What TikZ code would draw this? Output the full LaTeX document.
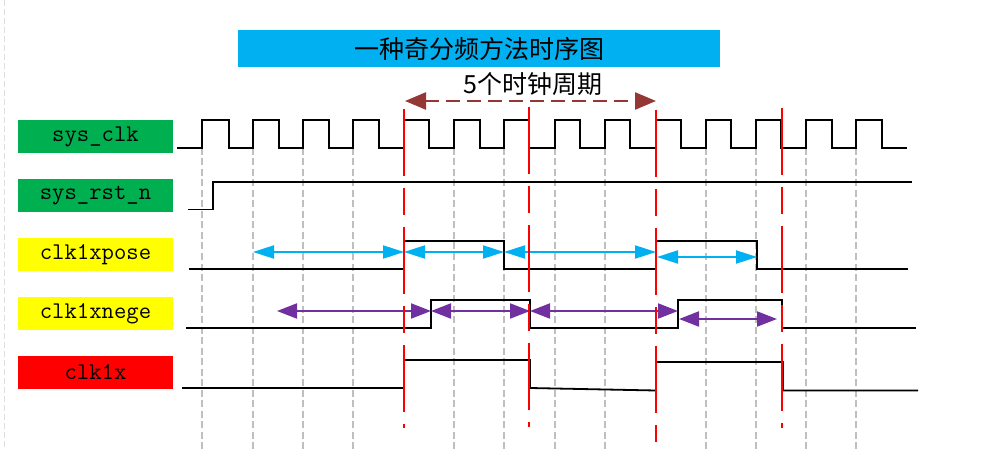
\documentclass[tikz,border=0pt]{standalone}
\usepackage{fontspec}
\newfontfamily\cjk{Noto Sans CJK SC}
\usetikzlibrary{arrows.meta}
\definecolor{titleblue}{HTML}{00B0F0}
\definecolor{lblgreen}{HTML}{00B050}
\definecolor{lblyellow}{HTML}{FFFF00}
\definecolor{lblred}{HTML}{FF0000}
\definecolor{brownarr}{RGB}{149,55,53}
\definecolor{purparr}{HTML}{7030A0}
\definecolor{gridgray}{HTML}{BFBFBF}
\begin{document}
\begin{tikzpicture}[x=1pt,y=-1pt,
  sigbox/.style={draw=none, minimum width=155pt, minimum height=33pt, inner sep=0pt,
    font=\fontsize{24}{24}\selectfont\ttfamily},
  wave/.style={black, line width=1.8pt, line join=miter},
  gridline/.style={gridgray, line width=1.5pt, dash pattern=on 7pt off 3.5pt},
  redmark/.style={red, line width=1.8pt, dash pattern=on 67pt off 12pt on 27pt off 12pt},
  cyanarr/.style={titleblue, line width=2pt, {Triangle[length=21pt,width=13pt]}-{Triangle[length=21pt,width=13pt]}},
  purparrow/.style={purparr, line width=2pt, {Triangle[length=20pt,width=15pt]}-{Triangle[length=20pt,width=15pt]}},
  brownarrow/.style={brownarr, line width=2.5pt, dash pattern=on 14pt off 7pt, {Triangle[length=21pt,width=17pt]}-{Triangle[length=21pt,width=17pt]}},
  cjktext/.style={inner sep=0pt, font=\fontsize{25}{25}\selectfont\cjk}
]
\useasboundingbox (0,0) rectangle (996,449);
\fill[white] (0,0) rectangle (996,449);
% faint left edge line
\draw[gray!25, line width=1pt, dash pattern=on 6pt off 3pt] (4,0) -- (4,449);

% title
\node[fill=titleblue, minimum width=482pt, minimum height=37pt, inner sep=0pt] (title) at (479,48.5) {};
\node[cjktext] (titletext) at (title.center) {一种奇分频方法时序图};
\node[cjktext] (period) at (533,84) {5个时钟周期};

% labels
\node[sigbox, fill=lblgreen] (lclk) at (95.5,136.5) {sys\_clk};
\node[sigbox, fill=lblgreen] (lrst) at (95.5,196) {sys\_rst\_n};
\node[sigbox, fill=lblyellow] (lpose) at (95.5,254.5) {clk1xpose};
\node[sigbox, fill=lblyellow] (lnege) at (95.5,313.5) {clk1xnege};
\node[sigbox, fill=lblred] (lclk1x) at (95.5,372) {clk1x};

% grid lines at clock rising edges
\foreach \gx in {202,253,303,353,454,504,555,605,706,756,806,856}
  \draw[gridline] (\gx,148) -- (\gx,449);

% waveforms
\draw[wave] (177,148) -| (202,120) -| (229,148) -| (253,120) -| (279,148) -| (303,120)
  -| (329,148) -| (353,120) -| (379,148) -| (404,120) -| (429,148) -| (454,120)
  -| (480,148) -| (504,120) -| (529,148) -| (555,120) -| (580,148) -| (605,120)
  -| (630,148) -| (656,120) -| (681,148) -| (706,120) -| (731,148) -| (756,120)
  -| (781,148) -| (806,120) -| (832,148) -| (856,120) -| (882,148) -- (907,148);
\draw[wave] (188,209.5) -| (213,182) -- (912,182);
\draw[wave] (189,269) -| (404,241) -| (504,269) -| (656,241) -| (757,269) -- (908,269);
\draw[wave] (186,328) -| (431,300) -| (530,328) -| (678,300) -| (782,328) -- (916,328);
\draw[wave] (182,388) -- (404,388) -- (404,360) -- (530,360) -- (530,388)
  -- (656,390.5) -- (656,362) -- (783,362) -- (783,390.5) -- (918,390.5);

% arrow end points
\coordinate (b1) at (405,101); \coordinate (b2) at (656,101);
\coordinate (c1) at (253,252); \coordinate (c2) at (404,252);
\coordinate (c3) at (504,252); \coordinate (c4) at (656,252);
\coordinate (c5) at (657,257); \coordinate (c6) at (757,257);
\coordinate (p1) at (277,311); \coordinate (p2) at (431,311);
\coordinate (p3) at (530,311); \coordinate (p4) at (678,311);
\coordinate (p5) at (679,319); \coordinate (p6) at (777,319);

\draw[brownarrow] (b1) -- (b2);
\draw[cyanarr] (c1) -- (c2);
\draw[cyanarr] (c2) -- (c3);
\draw[cyanarr] (c3) -- (c4);
\draw[cyanarr] (c5) -- (c6);
\draw[purparrow] (p1) -- (p2);
\draw[purparrow] (p2) -- (p3);
\draw[purparrow] (p3) -- (p4);
\draw[purparrow] (p5) -- (p6);

% red marker lines
\draw[redmark] (404,109) -- (404,428);
\draw[redmark] (529,107) -- (529,427);
\draw[redmark] (656,110) -- (656,442);
\draw[redmark] (782,108) -- (782,428);
\end{tikzpicture}
\end{document}
